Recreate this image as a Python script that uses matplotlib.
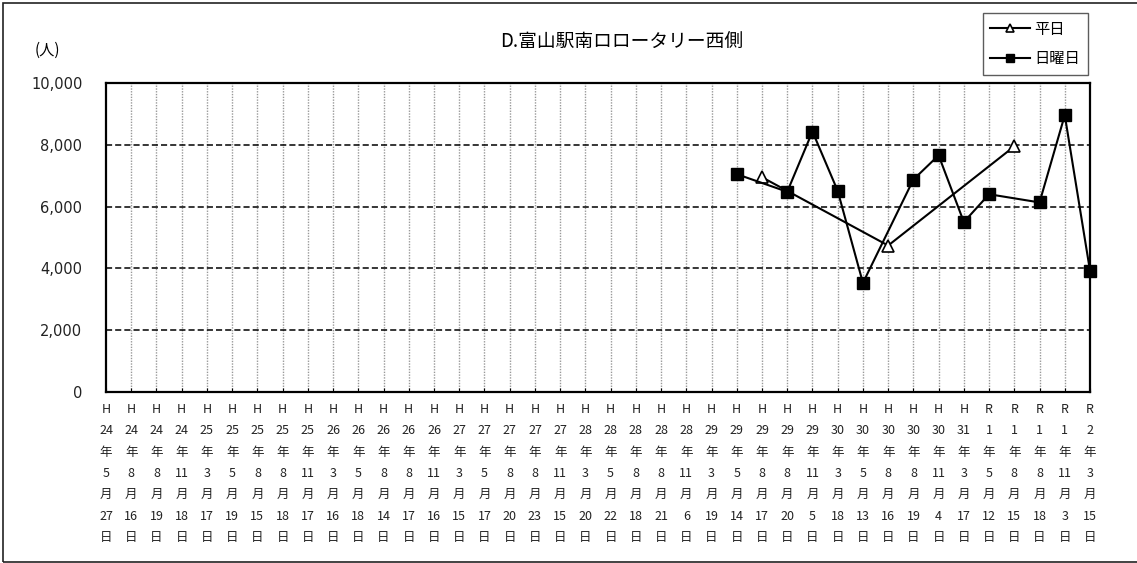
import matplotlib
matplotlib.use('Agg')
import matplotlib.pyplot as plt
from matplotlib.patches import Rectangle
import numpy as np

plt.rcParams['font.family'] = ['Noto Sans CJK JP', 'DejaVu Sans']

# survey dates (era, year, month, day)
era = ['H'] * 35 + ['R'] * 5
year = ['24', '24', '24', '24', '25', '25', '25', '25', '25', '26', '26', '26', '26', '26',
        '27', '27', '27', '27', '27', '28', '28', '28', '28', '28', '29', '29', '29', '29', '29',
        '30', '30', '30', '30', '30', '31', '1', '1', '1', '1', '2']
month = ['5', '8', '8', '11', '3', '5', '8', '8', '11', '3', '5', '8', '8', '11',
         '3', '5', '8', '8', '11', '3', '5', '8', '8', '11', '3', '5', '8', '8', '11',
         '3', '5', '8', '8', '11', '3', '5', '8', '8', '11', '3']
day = ['27', '16', '19', '18', '17', '19', '15', '18', '17', '16', '18', '14', '17', '16',
       '15', '17', '20', '23', '15', '20', '22', '18', '21', '6', '19', '14', '17', '20', '5',
       '18', '13', '16', '19', '4', '17', '12', '15', '18', '3', '15']

# values (None = no survey)
weekday = [None] * 26 + [6950, None, None, None, None, 4740, None, None, None, None, 7950, None, None, None]
sunday = [None] * 25 + [7050, None, 6480, 8430, 6510, 3530, None, 6875, 7660, 5500, 6400,
                        None, 6135, 8960, 3925]

labels = [f'{e}\n{y}\n年\n{m}\n月\n{d}\n日' for e, y, m, d in zip(era, year, month, day)]
x = np.arange(len(labels))

fig = plt.figure(figsize=(11.37, 5.63), dpi=100)
fig.patches.append(Rectangle((3 / 1137, 1.5 / 563), 1.2, 1 - 4.5 / 563, transform=fig.transFigure,
                             fill=False, edgecolor='#222222', linewidth=1.2))
ax = fig.add_axes([106 / 1137, 1 - 392 / 563, 984 / 1137, 309 / 563])

wx = [i for i, v in zip(x, weekday) if v is not None]
wy = [v for v in weekday if v is not None]
sx = [i for i, v in zip(x, sunday) if v is not None]
sy = [v for v in sunday if v is not None]

ax.plot(wx, wy, color='black', lw=1.5, marker='^', ms=8, mfc='white', mec='black', mew=1.2,
        label='平日', zorder=4, clip_on=False)
ax.plot(sx, sy, color='black', lw=1.5, marker='s', ms=8, mfc='black', mec='black',
        label='日曜日', zorder=5, clip_on=False)

ax.set_xlim(0, len(labels) - 1)
ax.set_ylim(0, 10000)
ax.set_yticks(range(0, 10001, 2000))
ax.set_yticklabels([f'{v:,}' for v in range(0, 10001, 2000)], family=['DejaVu Sans'], fontsize=10.5,
                   color='#222222')
ax.set_xticks(x)
ax.set_xticklabels(labels, fontsize=9, linespacing=1.83, color='#222222')
ax.tick_params(axis='x', direction='in', length=3, pad=8)
ax.tick_params(axis='y', length=0, pad=17)

for v in range(2000, 10000, 2000):
    ax.axhline(v, color='black', lw=1.1, ls=(0, (4, 2)), zorder=2)
for i in x[1:-1]:
    ax.axvline(i, color='#999999', lw=1.0, ls=(0, (1, 1)), zorder=1)
for s in ax.spines.values():
    s.set_linewidth(1.6)

fig.text(622 / 1137, 1 - 42 / 563, 'D.富山駅南ロロータリー西側', ha='center', va='center', fontsize=13.5)
fig.text(47 / 1137, 1 - 50 / 563, '(人)', ha='center', va='center', fontsize=11)

leg = fig.legend(loc='upper right', bbox_to_anchor=(1088 / 1137, 1 - 13 / 563), fontsize=11,
                 frameon=True, fancybox=False, edgecolor='#333333', handlelength=2.6,
                 markerscale=0.8, borderpad=0.5, labelspacing=0.8, handletextpad=0.3,
                 borderaxespad=0)
leg.get_frame().set_linewidth(1.0)

fig.savefig('out.png', dpi=100)
